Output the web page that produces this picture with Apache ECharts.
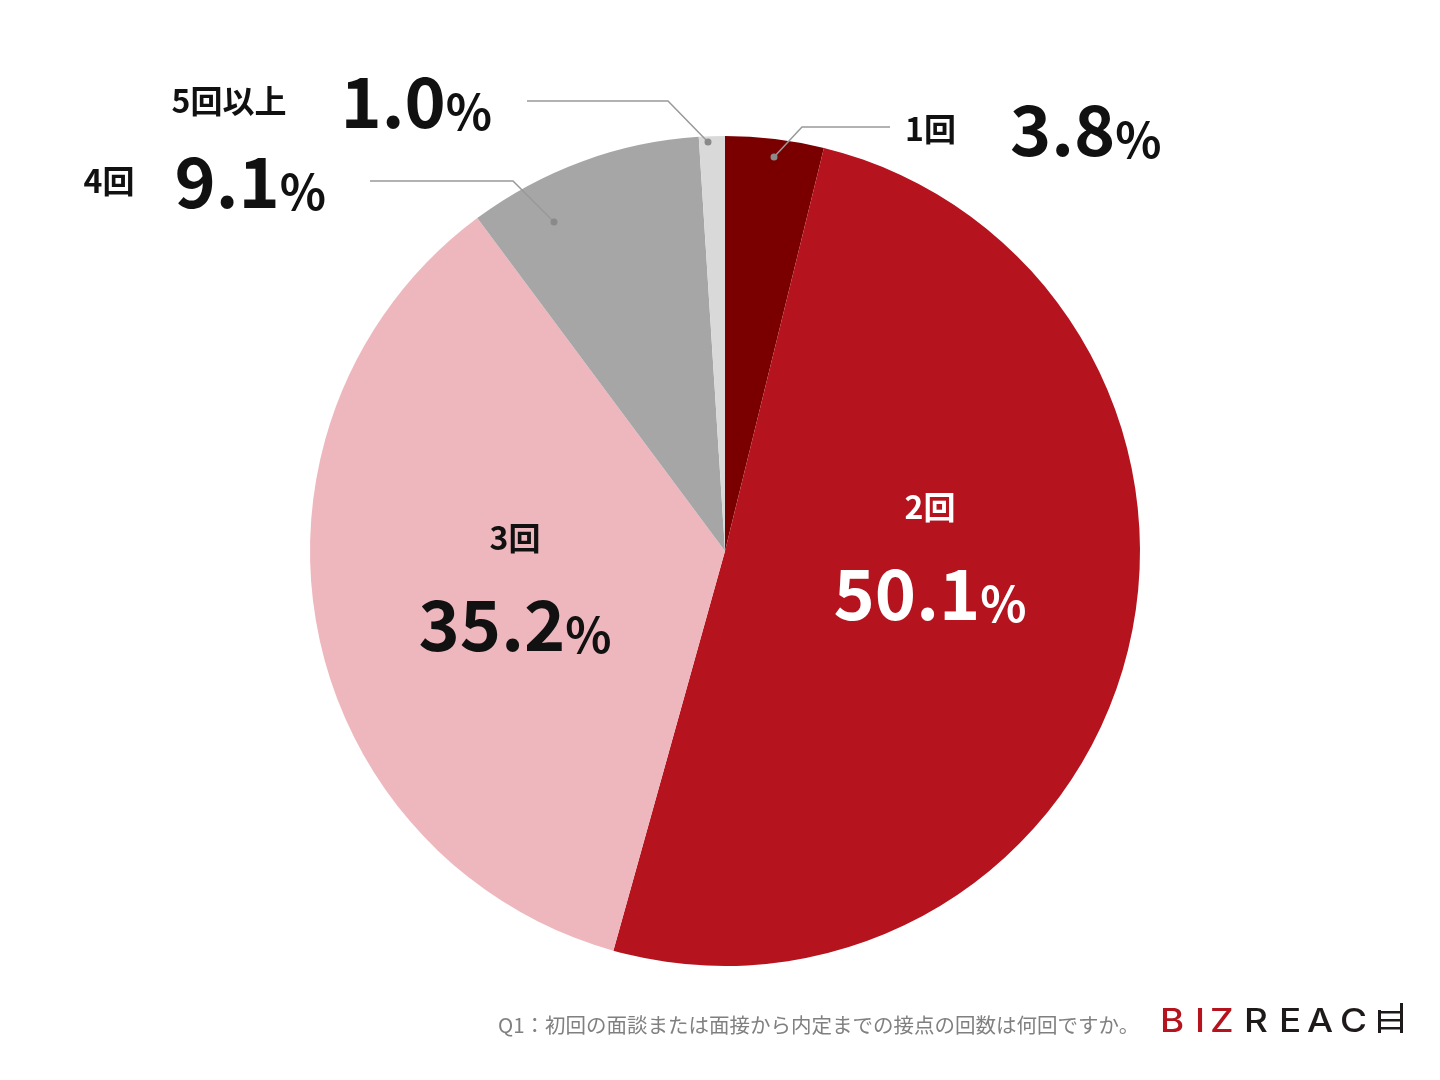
<!DOCTYPE html>
<html><head><meta charset="utf-8">
<script src="https://cdn.jsdelivr.net/npm/echarts@6/dist/echarts.min.js"></script>
<style>html,body{margin:0;padding:0;background:#fff}#c{width:1440px;height:1080px}</style>
</head><body><div id="c"></div>
<script>
// ---- data ----
const categories = ['1回', '2回', '3回', '4回', '5回以上'];
const values = [3.8, 50.1, 35.2, 9.1, 1.0];
const sliceColors = ['#7a0000', '#b5141f', '#eeb7bd', '#a6a6a6', '#d9d9d9'];
const question = 'Q1：初回の面談または面接から内定までの接点の回数は何回ですか。';
const logoRed = ['B', 'I', 'Z'];
const logoBlack = ['R', 'E', 'A', 'C'];

// ---- layout / style ----
const FONT = '"Noto Sans CJK JP", "Noto Sans", sans-serif';
const labelPlacement = [
  { pos: 'outside', x: 905, y: 129, align: 'left', color: '#111', gap: 54, line: [[774, 157], [802, 127], [890, 127]] },
  { pos: 'inside', x: 930, y: 542, align: 'center', color: '#ffffff' },
  { pos: 'inside', x: 515, y: 573, align: 'center', color: '#111' },
  { pos: 'outside', x: 326, y: 181, align: 'right', color: '#111', gap: 40, line: [[554, 222], [513, 181], [370, 181]] },
  { pos: 'outside', x: 492, y: 101, align: 'right', color: '#111', gap: 54, line: [[708, 142], [668, 101], [527, 101]] }
];
const logoLeft = [1160, 1195, 1210, 1244, 1279, 1307, 1340];

const rich = {
  n: { fontFamily: FONT, fontSize: 32, fontWeight: 'bold', lineHeight: 40 },
  ni: { fontFamily: FONT, fontSize: 32, fontWeight: 'bold', lineHeight: 102 },
  v: { fontFamily: FONT, fontSize: 70, fontWeight: 'bold', lineHeight: 70 },
  p: { fontFamily: FONT, fontSize: 48, fontWeight: 'bold', lineHeight: 53, verticalAlign: 'bottom' }
};
labelPlacement.forEach((pl, i) => { if (pl.gap) rich['g' + i] = { width: pl.gap }; });

const pieData = categories.map((name, i) => {
  const pl = labelPlacement[i];
  const inside = pl.pos === 'inside';
  return {
    name: name,
    value: values[i],
    itemStyle: { color: sliceColors[i] },
    label: {
      show: true,
      position: inside ? 'inside' : 'outside',
      color: pl.color,
      formatter: inside
        ? '{ni|' + name + '}\n{v|' + values[i].toFixed(1) + '}{p|%}'
        : '{n|' + name + '}{g' + i + '| }{v|' + values[i].toFixed(1) + '}{p|%}'
    },
    labelLine: { show: false }
  };
});

const leaders = [];
labelPlacement.filter(p => p.line).forEach(p => {
  leaders.push({
    type: 'polyline', shape: { points: p.line },
    style: { stroke: '#999999', lineWidth: 1.5, fill: null }, z: 100
  });
  leaders.push({
    type: 'circle', shape: { cx: p.line[0][0], cy: p.line[0][1], r: 3.5 },
    style: { fill: '#8a8a8a' }, z: 101
  });
});

const logoLetters = logoRed.concat(logoBlack).map((c, i) => ({
  type: 'text', x: logoLeft[i], y: 1022, scaleX: 1.15,
  style: {
    text: c, fill: i < logoRed.length ? '#b5141f' : '#1f1a1a',
    font: '500 32px Inter, "Noto Sans", sans-serif', verticalAlign: 'middle'
  }
}));
// stylised H of the logo
const hColor = '#1f1a1a';
const logoH = [
  { type: 'rect', shape: { x: 1378, y: 1010, width: 3, height: 23 }, style: { fill: hColor } },
  { type: 'rect', shape: { x: 1400, y: 1003, width: 3, height: 30 }, style: { fill: hColor } },
  { type: 'rect', shape: { x: 1378, y: 1011, width: 25, height: 2.5 }, style: { fill: hColor } },
  { type: 'rect', shape: { x: 1378, y: 1019, width: 25, height: 2.5 }, style: { fill: hColor } },
  { type: 'rect', shape: { x: 1378, y: 1027, width: 25, height: 2.5 }, style: { fill: hColor } }
];

const chart = echarts.init(document.getElementById('c'), null, { renderer: 'canvas' });
chart.setOption({
  backgroundColor: '#ffffff',
  animation: false,
  series: [{
    type: 'pie',
    center: [725, 551],
    radius: [0, 415],
    startAngle: 90,
    clockwise: true,
    avoidLabelOverlap: false,
    itemStyle: { borderWidth: 0 },
    label: { rich: rich },
    labelLayout: function (params) {
      const pl = labelPlacement[params.dataIndex];
      return { x: pl.x, y: pl.y, align: pl.align, verticalAlign: 'middle' };
    },
    data: pieData
  }],
  graphic: leaders.concat([
    {
      type: 'text',
      left: 498, top: 1015,
      style: { text: question, fill: '#808080', font: '20.5px "Noto Sans CJK JP", sans-serif' }
    }
  ]).concat(logoLetters).concat(logoH)
});
</script>
</body></html>
